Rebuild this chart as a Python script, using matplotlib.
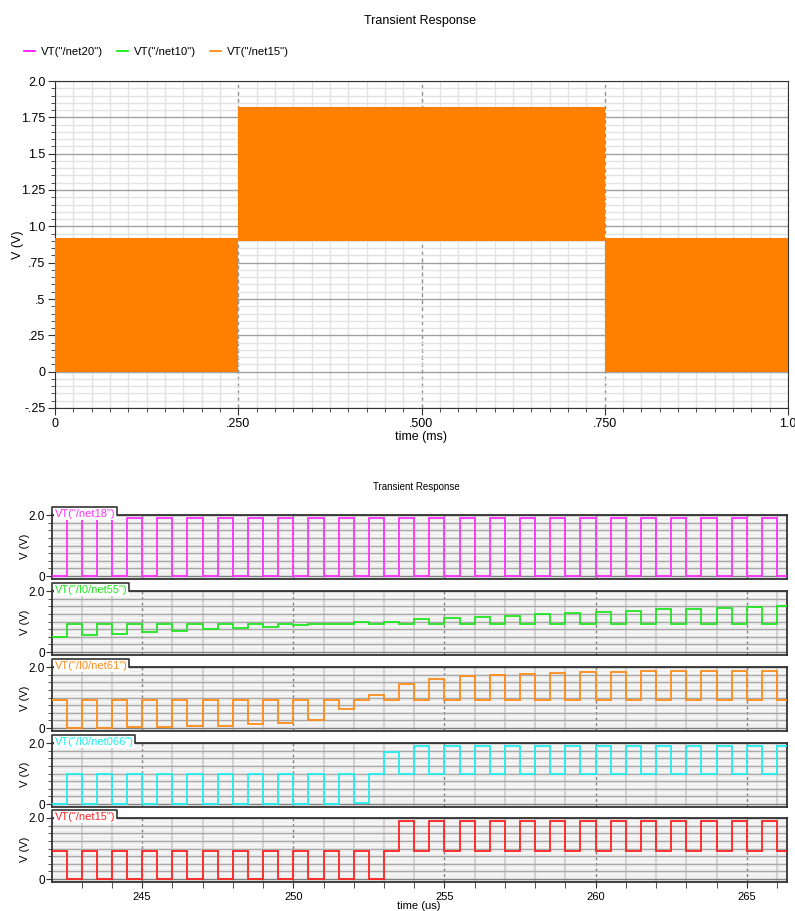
import matplotlib
matplotlib.use("Agg")
import numpy as np
import matplotlib.pyplot as plt
from matplotlib.lines import Line2D
from matplotlib.ticker import MultipleLocator

plt.rcParams['font.family'] = ['Liberation Sans', 'DejaVu Sans']

# ---- top chart: envelope of the fast toggling outputs (time in ms, volts)
seg_start = [0.0, 0.25, 0.75]
seg_end = [0.25, 0.75, 1.0]
seg_low = [0.0, 0.90, 0.0]
seg_high = [0.92, 1.82, 0.92]
top_names = ['VT("/net20")', 'VT("/net10")', 'VT("/net15")']
top_colors = ['#ff00ff', '#00ee00', '#ff8000']
top_yticks = [-0.25, 0, 0.25, 0.5, 0.75, 1.0, 1.25, 1.5, 1.75, 2.0]
top_ylabels = ['-.25', '0', '.25', '.5', '.75', '1.0', '1.25', '1.5', '1.75', '2.0']
top_xticks = [0, 0.25, 0.5, 0.75, 1.0]
top_xlabels = ['0', '.250', '.500', '.750', '1.0']

# ---- bottom chart: one value for each half of every microsecond (us, volts)
cycle_us = [242, 243, 244, 245, 246, 247, 248, 249, 250, 251, 252, 253, 254,
            255, 256, 257, 258, 259, 260, 261, 262, 263, 264, 265, 266]

net18_first = [0, 0, 0, 0, 0, 0, 0, 0, 0, 0, 0, 0, 0,
               0, 0, 0, 0, 0, 0, 0, 0, 0, 0, 0, 0]
net18_second = [1.9, 1.9, 1.9, 1.9, 1.9, 1.9, 1.9, 1.9, 1.9, 1.9, 1.9, 1.9, 1.9,
                1.9, 1.9, 1.9, 1.9, 1.9, 1.9, 1.9, 1.9, 1.9, 1.9, 1.9, 1.9]

net55_first = [0.50, 0.55, 0.58, 0.66, 0.69, 0.77, 0.80, 0.82, 0.88, 0.93, 0.97, 1.00, 1.07,
               1.11, 1.16, 1.19, 1.25, 1.28, 1.31, 1.33, 1.40, 1.42, 1.45, 1.49, 1.50]
net55_second = [0.93, 0.93, 0.93, 0.93, 0.93, 0.93, 0.93, 0.93, 0.93, 0.93, 0.93, 0.93, 0.93,
                0.93, 0.93, 0.93, 0.93, 0.93, 0.93, 0.93, 0.93, 0.93, 0.93, 0.93, 0.93]

net61_first = [0.92, 0.92, 0.92, 0.92, 0.92, 0.92, 0.92, 0.92, 0.92, 0.92, 0.92, 0.92, 0.92,
               0.92, 0.92, 0.92, 0.92, 0.92, 0.92, 0.92, 0.92, 0.92, 0.92, 0.92, 0.92]
net61_second = [0.01, 0.01, 0.03, 0.04, 0.06, 0.06, 0.12, 0.18, 0.28, 0.61, 1.08, 1.45, 1.60,
                1.71, 1.75, 1.78, 1.81, 1.85, 1.85, 1.87, 1.87, 1.87, 1.87, 1.87, 1.87]

net066_first = [0, 0, 0, 0, 0, 0, 0, 0, 0, 0, 0.05, 1.70, 1.89,
                1.89, 1.89, 1.89, 1.89, 1.89, 1.89, 1.89, 1.89, 1.89, 1.89, 1.89, 1.89]
net066_second = [0.98, 0.98, 0.98, 0.98, 0.98, 0.98, 0.98, 0.98, 0.98, 0.98, 0.98, 0.98, 0.98,
                 0.98, 0.98, 0.98, 0.98, 0.98, 0.98, 0.98, 0.98, 0.98, 0.98, 0.98, 0.98]

net15_first = [0.93, 0.93, 0.93, 0.93, 0.93, 0.93, 0.93, 0.93, 0.93, 0.93, 0.93, 0.93, 0.93,
               0.93, 0.93, 0.93, 0.93, 0.93, 0.93, 0.93, 0.93, 0.93, 0.93, 0.93, 0.93]
net15_second = [0, 0, 0, 0, 0, 0, 0, 0, 0, 0, 0, 1.9, 1.9,
                1.9, 1.9, 1.9, 1.9, 1.9, 1.9, 1.9, 1.9, 1.9, 1.9, 1.9, 1.9]

bottom_names = ['VT("/net18")', 'VT("/I0/net55")', 'VT("/I0/net61")',
                'VT("/I0/net066")', 'VT("/net15")']
bottom_first = [net18_first, net55_first, net61_first, net066_first, net15_first]
bottom_second = [net18_second, net55_second, net61_second, net066_second, net15_second]
bottom_colors = ['#ff33ff', '#22e622', '#ff8c1a', '#22eeee', '#ff2222']

W, H = 795, 911
fig = plt.figure(figsize=(W / 100, H / 100), dpi=100)


def fig_rect(left, top, right, bottom):
    # pixel box -> figure fraction
    return [left / W, 1 - bottom / H, (right - left) / W, (bottom - top) / H]


# ================= top chart =================
ax = fig.add_axes(fig_rect(55, 81, 788, 408))
for s, e, lo, hi in zip(seg_start, seg_end, seg_low, seg_high):
    ax.fill_between([s, e], [lo, lo], [hi, hi], color=top_colors[2], lw=0, zorder=3)

ax.set_xlim(0, 1.0)
ax.set_ylim(-0.25, 2.0)
ax.set_xticks(top_xticks)
ax.set_xticklabels(top_xlabels)
ax.set_yticks(top_yticks)
ax.set_yticklabels(top_ylabels)
ax.xaxis.set_minor_locator(MultipleLocator(0.025))
ax.yaxis.set_minor_locator(MultipleLocator(0.05))
ax.set_axisbelow(True)
ax.grid(which='minor', color='#e3e3e3', lw=1)
ax.grid(which='major', axis='y', color='#a0a0a0', lw=1)
ax.grid(which='major', axis='x', color='#909090', lw=1, ls=(0, (3, 2)))
ax.tick_params(which='major', direction='out', length=5, color='#333333', labelsize=9, pad=2)
ax.tick_params(which='minor', direction='out', length=3, color='#333333')
for sp in ax.spines.values():
    sp.set_color('#333333')
fig.text(420 / W, 1 - 21 / H, 'Transient Response', ha='center', va='center', fontsize=9)
fig.text(421 / W, 1 - 437 / H, 'time (ms)', ha='center', va='center', fontsize=9)
fig.text(18 / W, 1 - 245 / H, 'V (V)', ha='center', va='center', rotation=90, fontsize=9)

handles = [Line2D([], [], color=c, lw=1.2) for c in top_colors]
fig.legend(handles, top_names, loc='center left', bbox_to_anchor=(24 / W, 1 - 52 / H),
           ncol=3, frameon=False, fontsize=8.2, handlelength=1.0, handletextpad=0.5,
           columnspacing=1.2, borderaxespad=0, borderpad=0)

# ================= bottom chart =================
panel_tops = [515, 591, 667, 743, 818]
panel_h = 63.5
axes = []
for i in range(5):
    a = fig.add_axes(fig_rect(52, panel_tops[i], 787, panel_tops[i] + panel_h))
    axes.append(a)

edges = []
for c in cycle_us:
    edges += [c, c + 0.5]
edges.append(cycle_us[-1] + 1)

tabs = []
for a, name, first, second, col in zip(axes, bottom_names, bottom_first, bottom_second, bottom_colors):
    vals = []
    for f, s in zip(first, second):
        vals += [f, s]
    a.stairs(vals, edges, baseline=None, color=col, lw=1.3, zorder=3)

    a.set_xlim(242.02, 266.33)
    a.set_ylim(-0.08, 2.0)
    a.set_facecolor('#ececec')
    a.set_yticks([0, 2.0])
    a.set_yticklabels(['0', '2.0'])
    a.yaxis.set_minor_locator(MultipleLocator(0.25))
    a.xaxis.set_major_locator(MultipleLocator(5))
    a.xaxis.set_minor_locator(MultipleLocator(1))
    a.set_axisbelow(True)
    for y in np.arange(0.05, 2.0, 0.05):
        a.axhline(y, color='#f6f6f6', lw=0.8, zorder=0.4)
    a.grid(which='minor', axis='y', color='#a8a8a8', lw=1)
    a.grid(which='minor', axis='x', color='#d2d2d2', lw=1.5)
    a.grid(which='major', axis='x', color='#808080', lw=1, ls=(0, (2, 2)))
    a.grid(which='major', axis='y', color='#808080', lw=1)
    a.tick_params(axis='y', which='major', direction='out', length=4, color='#333333',
                  labelsize=8.5, pad=1)
    a.tick_params(axis='y', which='minor', direction='out', length=3, color='#333333')
    a.tick_params(axis='x', which='both', direction='out', length=4, color='#333333',
                  labelsize=8)
    for sp in a.spines.values():
        sp.set_color('#333333')
        sp.set_linewidth(1.3)
    pos = a.get_position()
    fig.text(25 / W, pos.y0 + pos.height / 2, 'V (V)', ha='center', va='center',
             rotation=90, fontsize=8)
    t = a.text(0.004, 1.022, name, transform=a.transAxes, ha='left', va='center', color=col,
               fontsize=8, zorder=6, clip_on=False,
               bbox=dict(boxstyle='square,pad=0.12', fc='white', ec='none'))
    tabs.append(t)

for a in axes[:-1]:
    a.tick_params(axis='x', which='both', bottom=False, labelbottom=False)
axes[-1].tick_params(axis='x', which='both', labelbottom=True)

fig.text(416 / W, 1 - 487 / H, 'Transient Response', ha='center', va='center', fontsize=7)
fig.text(419 / W, 1 - 906 / H, 'time (us)', ha='center', va='center', fontsize=8)

# tab outline round each signal name
fig.canvas.draw()
rend = fig.canvas.get_renderer()
for a, t in zip(axes, tabs):
    bb = t.get_bbox_patch().get_window_extent(rend)
    inv = a.transAxes.inverted()
    (x0, y0), (x1, y1) = inv.transform([[bb.x0, bb.y0], [bb.x1, bb.y1]])
    a.plot([0, 0, x1, x1], [1, y1, y1, 1], transform=a.transAxes, color='#333333',
           lw=1.2, clip_on=False, zorder=7)

fig.savefig('out.png', dpi=100)
